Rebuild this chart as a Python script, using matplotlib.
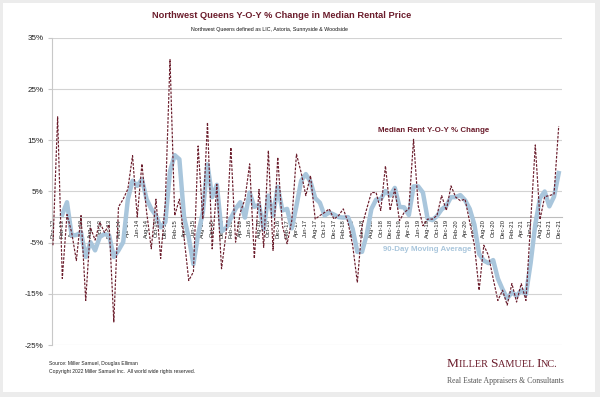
import numpy as np
import pandas as pd
import matplotlib
matplotlib.use('Agg')
import matplotlib.pyplot as plt
from matplotlib.patches import Rectangle
from matplotlib.offsetbox import TextArea, HPacker, AnnotationBbox

# monthly, Dec-12 .. Dec-21
months = pd.date_range('2012-12-01', '2021-12-01', freq='MS')

yoy_change = [
    -5.5, 19.6, -12.0, 0.5, -3.0, -8.5, 0.3, -16.3, -2.0, -4.5,
    -1.0, -3.0, -1.5, -20.5, 2.0, 3.5, 5.5, 12.0, 0.0, 10.4,
    1.0, -6.2, 3.5, -8.1, 3.0, 30.8, 0.3, 3.5, -4.0, -12.4,
    -10.7, 13.9, -0.4, 18.5, -6.2, 6.4, -10.1, -3.0, 13.6, -4.9,
    0.9, 3.5, 10.4, -8.1, 5.4, -5.9, 13.0, -6.5, 11.7, -1.7,
    -5.2, -0.7, 12.3, 8.7, 4.2, 8.1, -0.4, 0.3, 0.9, 1.6,
    -0.4, 0.3, 1.6, -1.0, -5.5, -12.8, -1.7, 1.6, 4.8, 4.8,
    1.3, 10.0, 1.3, 5.5, -0.7, 0.9, 1.6, 15.2, 2.2, -1.7,
    -0.4, -0.4, 0.3, 4.2, 1.3, 6.1, 3.9, 3.2, 3.5, -1.0,
    -5.5, -14.3, -5.5, -7.5, -12.0, -16.3, -14.3, -17.2, -13.0, -16.6,
    -13.0, -16.3, -1.0, 14.1, -0.5, 4.0, 4.2, 4.5, 17.8,
]

moving_avg = [
    np.nan, np.nan, 0.5, 2.9, -3.6, -3.5, -3.0, -7.8, -4.9, -6.5,
    -3.9, -3.3, -3.6, -7.8, -6.5, -4.9, 3.5, 7.1, 6.1, 7.4,
    3.5, 1.6, 0.3, -2.0, -1.0, 9.0, 12.1, 11.3, 0.0, -4.0,
    -9.2, -3.4, 0.9, 10.3, 3.9, 6.3, -2.8, -2.1, -0.2, 1.6,
    2.9, -0.1, 4.8, 2.0, 2.4, -2.4, 4.2, 0.3, 5.9, 1.3,
    1.6, -2.2, 2.2, 7.1, 8.4, 6.9, 3.7, 2.8, 0.3, 0.9,
    0.5, 0.0, -0.1, 0.0, -2.3, -6.8, -6.8, -3.4, 1.6, 3.4,
    3.5, 5.1, 4.2, 5.7, 2.0, 1.9, 0.4, 6.0, 6.0, 4.8,
    -0.3, -0.6, 0.2, 1.5, 2.2, 3.9, 3.9, 4.3, 3.3, 1.6,
    -1.5, -7.2, -8.5, -9.0, -8.4, -12.0, -14.1, -15.9, -14.7, -15.4,
    -14.3, -15.1, -9.0, -1.4, 3.7, 5.0, 2.1, 4.0, 8.6,
]

yticks = [-25, -15, -5, 5, 15, 25, 35]
tick_labels = [d.strftime('%b-%y') for d in months]

maroon = '#6b1d2c'
blue = '#a9c6dc'
sans = 'Liberation Sans'
serif = 'Liberation Serif'


def px(x, y):
    # pixel position (from top-left) -> figure fraction
    return x / 600, 1 - y / 397


fig = plt.figure(figsize=(6, 3.97), dpi=100)
fig.patch.set_facecolor('#ececec')
fig.add_artist(Rectangle((3 / 600, 5 / 397), 592 / 600, 389 / 397,
                         transform=fig.transFigure, facecolor='white',
                         edgecolor='none', zorder=0))

ax = fig.add_axes([52 / 600, 1 - 345 / 397, 510 / 600, 307 / 397])
ax.set_facecolor('none')
ax.spines['bottom'].set_position(('data', 0))

x = np.arange(len(months))
ax.plot(x, moving_avg, color=blue, lw=3.2, solid_joinstyle='round', zorder=3)
ax.plot(x, yoy_change, color=maroon, lw=0.85, linestyle=(0, (2.2, 1.2)), zorder=4)

ax.set_xlim(-0.2, 108.7)
ax.set_ylim(-25, 35)
ax.set_yticks(yticks)
ax.set_yticklabels([f'{v}%' for v in yticks], fontsize=5.8, family=sans, color='#222222')
ax.yaxis.grid(True, color='#d3d3d3', lw=0.8)
ax.set_axisbelow(True)
ax.tick_params(axis='y', length=3, color='#c8c8c8', pad=3)

ax.set_xticks(x[::2])
ax.set_xticklabels(tick_labels[::2], rotation=90, fontsize=4.2, family=sans,
                   va='top', ha='center', color='#222222')
ax.tick_params(axis='x', length=0, pad=1.5)

ax.spines['bottom'].set_color('#bdbdbd')
ax.spines['left'].set_color('#c8c8c8')
ax.spines['top'].set_visible(False)
ax.spines['right'].set_visible(False)

# in-chart labels
fig.text(*px(378, 131), 'Median Rent Y-O-Y % Change', fontsize=5.7,
         family=sans, weight='bold', color=maroon, va='center')
fig.text(*px(383, 250), '90-Day Moving Average', fontsize=5.7, family=sans,
         weight='bold', color=blue, va='center')

fig.text(*px(282, 15), 'Northwest Queens Y-O-Y % Change in Median Rental Price',
         ha='center', va='center', fontsize=6.7, family=sans, weight='bold', color=maroon)
fig.text(*px(269, 30), 'Northwest Queens defined as LIC, Astoria, Sunnyside & Woodside',
         ha='center', va='center', fontsize=3.8, family=sans, color='#111111')

fig.text(*px(49, 363), 'Source: Miller Samuel, Douglas Elliman',
         ha='left', va='center', fontsize=3.6, family=sans, color='#222222')
fig.text(*px(49, 372), 'Copyright 2022 Miller Samuel Inc.  All world wide rights reserved.',
         ha='left', va='center', fontsize=3.6, family=sans, color='#222222')

# logo in small caps
big = dict(fontsize=9.6, family=serif, color=maroon)
small = dict(fontsize=7.4, family=serif, color=maroon)
parts = [('M', big), ('ILLER ', small), ('S', big), ('AMUEL ', small),
         ('I', big), ('NC.', small)]
pack = HPacker(children=[TextArea(s, textprops=p) for s, p in parts],
               align='baseline', pad=0, sep=0)
fig.add_artist(AnnotationBbox(pack, px(447, 364), xycoords='figure fraction',
                              box_alignment=(0, 0.5), frameon=False))
fig.text(*px(447, 381), 'Real Estate Appraisers & Consultants',
         ha='left', va='center', fontsize=5.6, family=serif, color='#555555')

fig.savefig('out.png', dpi=100, facecolor=fig.get_facecolor())
